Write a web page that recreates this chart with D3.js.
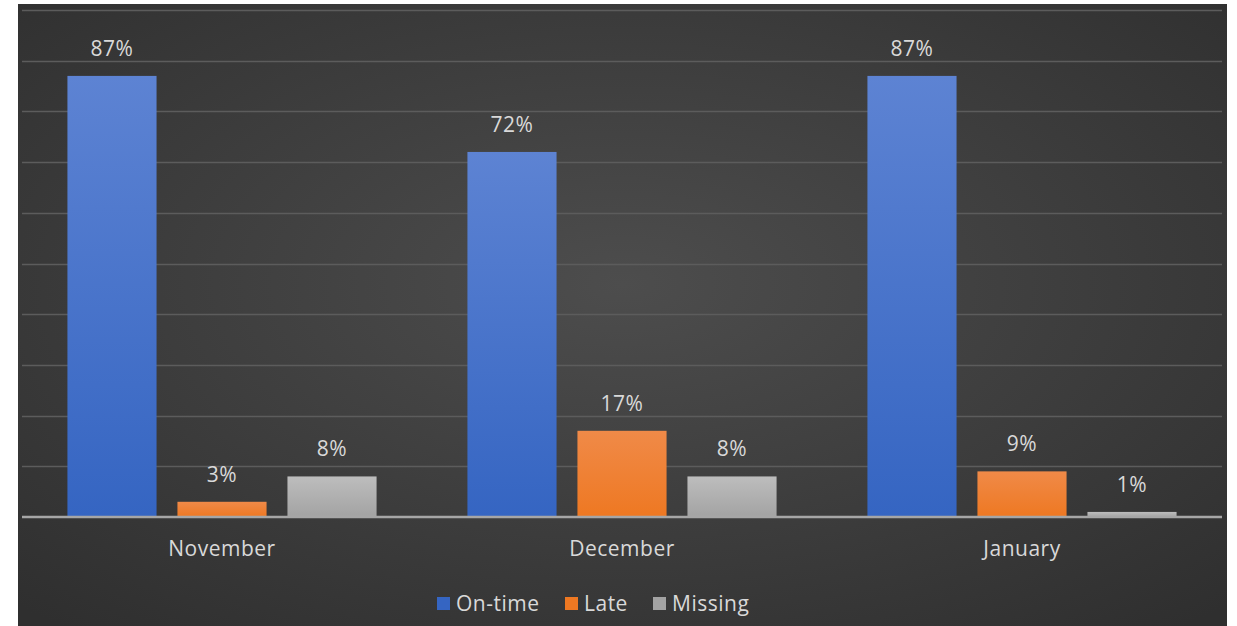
<!DOCTYPE html>
<html><head><meta charset="utf-8">
<script src="https://cdn.jsdelivr.net/npm/d3@7"></script>
<style>html,body{margin:0;padding:0;background:#fff;}svg{display:block;}</style>
</head><body>
<script>
const categories = ["November", "December", "January"];
const seriesNames = ["On-time", "Late", "Missing"];
const onTime = [87, 72, 87];
const late = [3, 17, 9];
const missing = [8, 8, 1];
const yTicks = [0,10,20,30,40,50,60,70,80,90,100];

const W = 1237, H = 626;
const svg = d3.select("body").append("svg").attr("width", W).attr("height", H);
const defs = svg.append("defs");

const bg = defs.append("radialGradient").attr("id","bg").attr("cx","50%").attr("cy","45%").attr("r","72%");
bg.append("stop").attr("offset","0%").attr("stop-color","#4d4d4d");
bg.append("stop").attr("offset","100%").attr("stop-color","#2f2f2f");

const colors = {"On-time":["#5d83d3","#3565c2"], "Late":["#f08a48","#ee7822"], "Missing":["#bdbdbd","#a3a3a3"]};
seriesNames.forEach((s,i)=>{
  const g = defs.append("linearGradient").attr("id","g"+i).attr("x1",0).attr("y1",0).attr("x2",0).attr("y2",1);
  g.append("stop").attr("offset","0%").attr("stop-color",colors[s][0]);
  g.append("stop").attr("offset","100%").attr("stop-color",colors[s][1]);
});

svg.append("rect").attr("x",18).attr("y",4).attr("width",1209).attr("height",622).attr("fill","url(#bg)");

const x0 = d3.scaleBand().domain(categories).range([22,1222]).padding(0);
const x1 = d3.scaleBand().domain(seriesNames).range([0,x0.bandwidth()]).paddingInner(0.19).paddingOuter(0.413);
const y = d3.scaleLinear().domain([0,100]).range([517,10]);

const font = "'Open Sans', 'Noto Sans', sans-serif";

svg.append("g").selectAll("line").data(yTicks.slice(1)).join("line")
  .attr("x1",22).attr("x2",1222).attr("y1",d=>Math.round(y(d))+0.5).attr("y2",d=>Math.round(y(d))+0.5)
  .attr("stroke","#5c5c5c").attr("stroke-width",1.3);

const data = categories.map((c,i)=>({cat:c, vals:[onTime[i],late[i],missing[i]]}));
const groups = svg.append("g").selectAll("g").data(data).join("g")
  .attr("transform",d=>`translate(${x0(d.cat)},0)`);
groups.selectAll("rect").data(d=>d.vals.map((v,j)=>({s:seriesNames[j],j,v}))).join("rect")
  .attr("x",d=>x1(d.s)).attr("width",x1.bandwidth())
  .attr("y",d=>y(d.v)).attr("height",d=>y(0)-y(d.v))
  .attr("fill",d=>`url(#g${d.j})`);
groups.selectAll("text").data(d=>d.vals.map((v,j)=>({s:seriesNames[j],j,v}))).join("text")
  .attr("x",d=>x1(d.s)+x1.bandwidth()/2).attr("y",d=>y(d.v)-20)
  .attr("text-anchor","middle").attr("fill","#d9d9d9").attr("font-family",font).attr("font-size",21)
  .attr("letter-spacing",0.5)
  .text(d=>d.v+"%");

// baseline
svg.append("line").attr("x1",22).attr("x2",1222).attr("y1",y(0)).attr("y2",y(0))
  .attr("stroke","#a6a6a6").attr("stroke-width",2.5);

const xAxis = d3.axisBottom(x0).tickSize(0).tickPadding(0);
const ax = svg.append("g").attr("transform",`translate(0,${y(0)})`).call(xAxis);
ax.select(".domain").remove();
ax.selectAll("text").attr("y",39).attr("dy",0).attr("fill","#d9d9d9").attr("font-family",font).attr("font-size",21)
  .attr("letter-spacing",0.5);

// legend
const legX = [437,565,653];
const leg = svg.append("g").selectAll("g").data(seriesNames).join("g")
  .attr("transform",(d,i)=>`translate(${legX[i]},597)`);
leg.append("rect").attr("width",13).attr("height",13).attr("fill",(d,i)=>colors[d][1]);
leg.append("text").attr("x",19).attr("y",14).attr("fill","#d9d9d9").attr("font-family",font).attr("font-size",21)
  .attr("letter-spacing",0.5).text(d=>d);
</script>
</body></html>
